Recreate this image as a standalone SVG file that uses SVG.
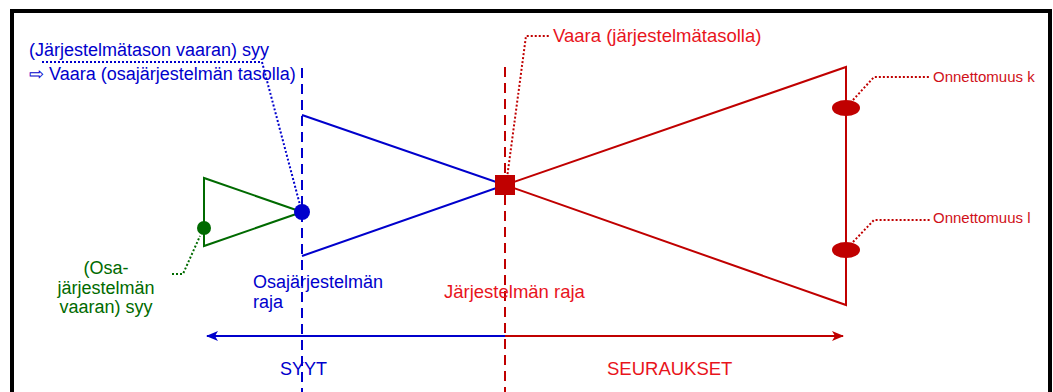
<svg xmlns="http://www.w3.org/2000/svg" width="1053" height="392" viewBox="0 0 1053 392">
<style>
text{font-family:"Liberation Sans",Arial,sans-serif;}
.b{fill:#0000cc;font-size:18px;}
.r{fill:#e8141c;font-size:18.5px;}
.rs{fill:#d01018;font-size:15px;}
.g{fill:#006a00;font-size:18px;}
.ln{fill:none;stroke-width:2;}
.dot{fill:none;stroke-width:2;stroke-dasharray:2 2;}
.dash{fill:none;stroke-width:2;stroke-dasharray:10 6;}
</style>
<defs>
<marker id="ab" viewBox="0 0 12 10" refX="11" refY="5" markerWidth="12" markerHeight="10" markerUnits="userSpaceOnUse" orient="auto-start-reverse"><path d="M0,0 L12,5 L0,10 L3,5 Z" fill="#0000cc"/></marker>
<marker id="ar" viewBox="0 0 12 10" refX="11" refY="5" markerWidth="12" markerHeight="10" markerUnits="userSpaceOnUse" orient="auto"><path d="M0,0 L12,5 L0,10 L3,5 Z" fill="#c00000"/></marker>
</defs>
<rect x="0" y="0" width="1053" height="392" fill="#fff"/>
<path d="M12,400 V11 H1050 V400" fill="none" stroke="#000" stroke-width="4"/>

<g id="connectors">
<line class="dash" x1="302" y1="68" x2="302" y2="392" stroke="#0000cc"/>
<line class="dash" x1="505" y1="67" x2="505" y2="392" stroke="#c00000"/>
<polyline class="dot" stroke="#0000cc" points="42,62 262,62 300,205"/>
<polyline class="dot" stroke="#c00000" points="507,178 526,36 550,36"/>
<polyline class="dot" stroke="#006a00" points="172,274 183,274 200,236"/>
<polyline class="dot" stroke="#c00000" points="853,100 874,77 930,77"/>
<polyline class="dot" stroke="#c00000" points="853,242 874,220 930,220"/>
<line class="ln" x1="505" y1="336" x2="207" y2="336" stroke="#0000cc" marker-end="url(#ab)"/>
<line class="ln" x1="505" y1="336" x2="843" y2="336" stroke="#c00000" marker-end="url(#ar)"/>
</g>

<g id="green-triangle">
<polyline class="ln" stroke="#006a00" points="302,212 204,178 204,246 302,212"/>
<circle cx="204" cy="228" r="7" fill="#006a00"/>
</g>
<g id="blue-funnel">
<polyline class="ln" stroke="#0000cc" points="302,115 505,185 302,256"/>
<circle cx="302" cy="212" r="8" fill="#0000cc"/>
</g>
<g id="red-funnel">
<polyline class="ln" stroke="#c00000" points="505,185 846,67 846,305 505,185"/>
<rect x="495" y="175" width="20" height="20" fill="#c00000"/>
<ellipse cx="846" cy="108" rx="14" ry="8" fill="#c00000"/>
<ellipse cx="846" cy="250" rx="14" ry="8" fill="#c00000"/>
</g>

<g id="labels">
<text class="b" x="29" y="56">(Järjestelmätason vaaran) syy</text>
<text class="b" x="29" y="80">⇨ Vaara (osajärjestelmän tasolla)</text>
<text class="r" x="553" y="42">Vaara (järjestelmätasolla)</text>
<text class="rs" x="933" y="82">Onnettomuus k</text>
<text class="rs" x="933" y="223">Onnettomuus l</text>
<text class="g" text-anchor="middle" x="106" y="274">(Osa-</text>
<text class="g" text-anchor="middle" x="106" y="294">järjestelmän</text>
<text class="g" text-anchor="middle" x="106" y="313">vaaran) syy</text>
<text class="b" x="253" y="288">Osajärjestelmän</text>
<text class="b" x="253" y="308">raja</text>
<text class="r" x="444" y="298">Järjestelmän raja</text>
<text class="b" x="280" y="375">SYYT</text>
<text class="r" x="607" y="375">SEURAUKSET</text>
</g>
</svg>
